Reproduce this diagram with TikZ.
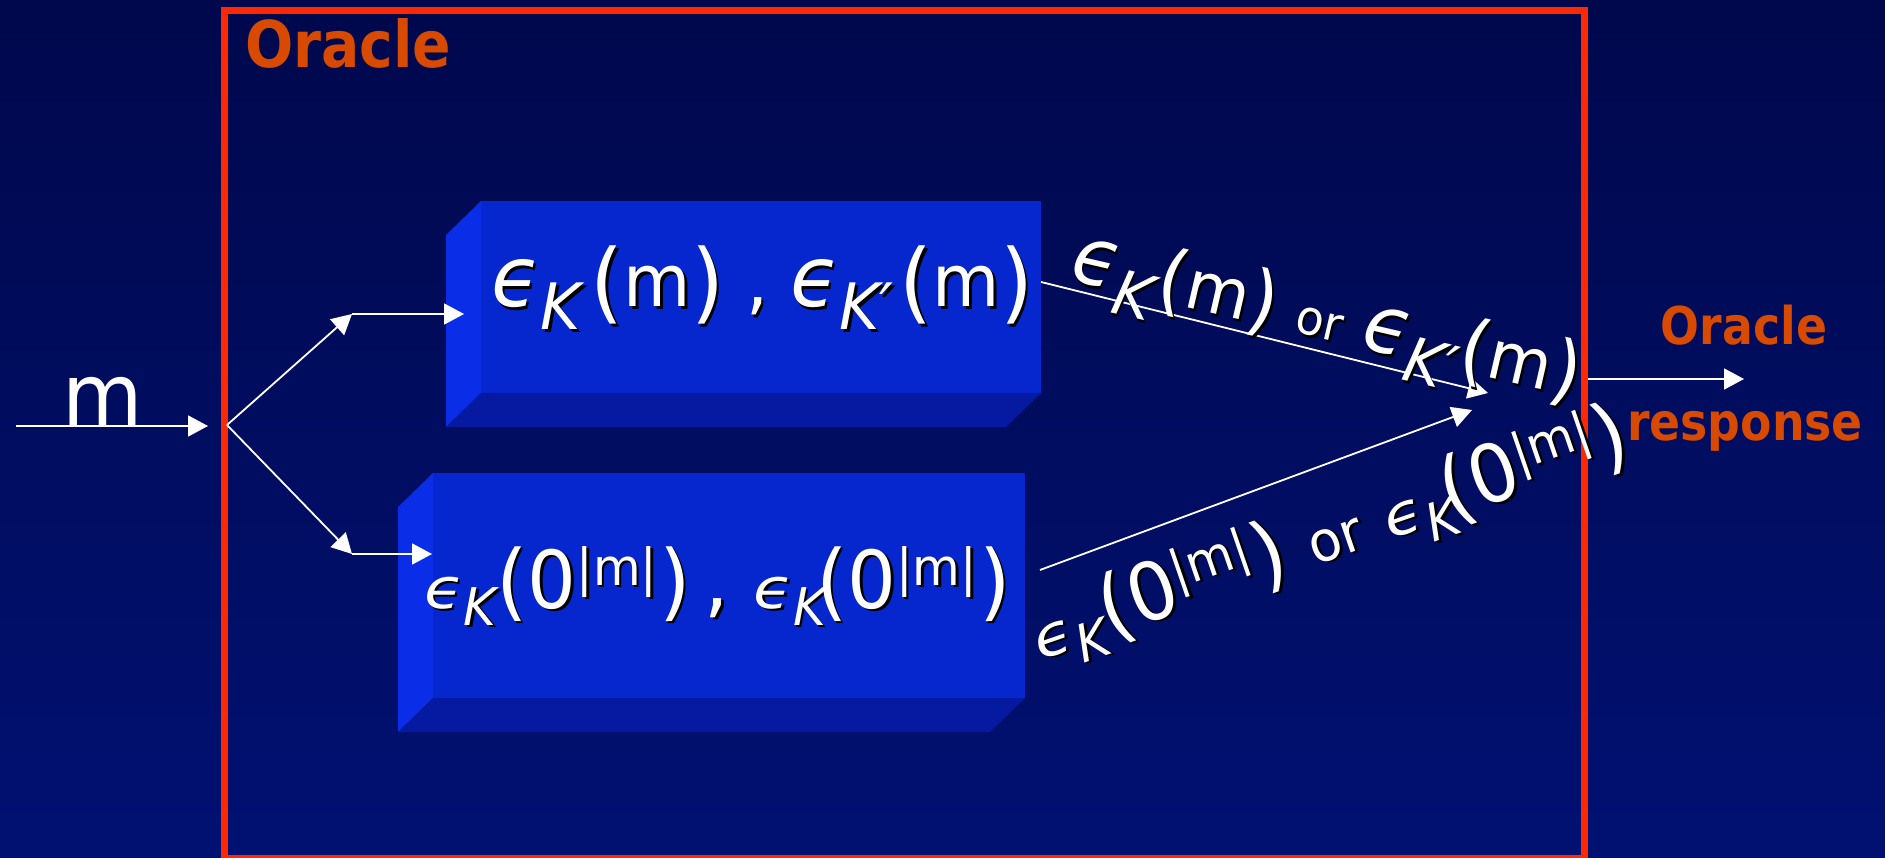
\documentclass[tikz,border=0pt]{standalone}
\usepackage{fontspec}
\usepackage{graphicx}
\setmainfont[FakeStretch=0.96]{DejaVu Sans}
\newfontfamily\orafont[FakeStretch=0.88]{DejaVu Sans}
\usetikzlibrary{arrows.meta,calc}
\definecolor{bgtop}{RGB}{0,8,76}
\definecolor{bgbot}{RGB}{1,17,114}
\definecolor{framered}{RGB}{255,40,0}
\definecolor{oraorange}{RGB}{216,74,0}
\definecolor{facefront}{RGB}{6,38,206}
\definecolor{faceside}{RGB}{10,46,232}
\definecolor{facebottom}{RGB}{5,26,160}
\newcommand\shd[1]{\leavevmode\rlap{\kern2.5pt\raisebox{-2.5pt}{\color{black}#1}}#1}
\newcommand\fz[1]{\fontsize{#1}{#1}\selectfont}
\newcommand\Eps[1]{{\fz{#1}\itshape ϵ}}
\newcommand\EpsW[1]{\scalebox{1.2}[1]{\fz{#1}\itshape ϵ}}
\newcommand\Low[3]{\raisebox{-#2pt}{\fz{#1}#3}}
\newcommand\High[3]{\raisebox{#2pt}{\fz{#1}#3}}
% upper formula pieces (box)
\newcommand\EK{\Eps{84}\Low{64}{23}{\itshape K}\kern10pt}
\newcommand\EKp{\Eps{84}\Low{64}{23}{\itshape K′}\kern6pt}
\newcommand\Pm{\Low{88}{6}{(}m\Low{88}{6}{)}}
% upper formula pieces (label)
\newcommand\LEK{\Eps{80}\Low{62}{22}{\itshape K}\kern2pt}
\newcommand\LEKp{\Eps{80}\Low{62}{22}{\itshape K′}}
\newcommand\LPm{\Low{78}{3}{(}m\Low{78}{3}{)}}
% lower formula pieces
\newcommand\Zm{\Low{84}{2}{(}0\High{51}{23}{|m|}\kern2pt\Low{84}{2}{)}}
\newcommand\EKa{\EpsW{56}\Low{52}{17}{\itshape K}\Zm}
\newcommand\EKb{\EpsW{56}\Low{52}{17}{\itshape K}\kern-10pt\Zm}
\tikzset{
  arr/.style={draw=white, line width=1.8pt, -{Triangle[length=20pt,width=21pt]}},
  front/.style={fill=facefront, inner sep=0pt, outer sep=0pt},
  wtxt/.style={text=white, inner sep=0pt, outer sep=0pt},
  otxt/.style={text=oraorange, inner sep=0pt, outer sep=0pt, font=\orafont\bfseries},
}
\begin{document}
\begin{tikzpicture}[x=1pt,y=-1pt]
\useasboundingbox (0,0) rectangle (1885,858);
\fill[top color=bgtop, bottom color=bgbot] (0,0) rectangle (1885,858);

% oracle frame
\node[draw=framered, line width=7pt, minimum width=1360pt, minimum height=848pt, inner sep=0pt] (oracle) at (904.5,434.5) {};
\node[otxt, anchor=base west, font=\orafont\bfseries\fz{64.5}] (title) at (245,68) {Oracle};

% boxes
\node[front, minimum width=560pt, minimum height=192pt] (box1) at (761,297) {};
\node[front, minimum width=592pt, minimum height=225pt] (box2) at (729,585.5) {};
\foreach \b in {box1,box2}{
  \fill[faceside] (\b.north west) -- ($(\b.north west)+(-35,34)$) -- ($(\b.south west)+(-35,34)$) -- (\b.south west) -- cycle;
  \fill[facebottom] (\b.south west) -- (\b.south east) -- ($(\b.south east)+(-35,34)$) -- ($(\b.south west)+(-35,34)$) -- cycle;
}

% texts in boxes
\node[wtxt, anchor=base west, font=\fz{72}] (t1) at (491,307)
  {\shd{\EK\Pm\ , \EKp\Pm}};
\node[wtxt, anchor=base west, font=\fz{80}] (t2) at (424,608)
  {\shd{\EKa\kern14pt, \EKb}};

% input
\node[wtxt, anchor=base, font=\fz{86}] (mlab) at (103,425) {m};
\coordinate (src) at (16,426);
\coordinate (inEnd) at (208,426);
\coordinate (split) at (227,425);
\coordinate (upK) at (352,314);
\coordinate (upIn) at (464,314);
\coordinate (loK) at (352,554);
\coordinate (loIn) at (432,554);
\draw[arr] (src) -- (inEnd);
\draw[arr] (split) -- (upK);
\draw[arr] (upK) -- (upIn);
\draw[arr] (split) -- (loK);
\draw[arr] (loK) -- (loIn);

% outputs of boxes
\coordinate (r1e) at (1488,393);
\coordinate (r2e) at (1472,410);
\draw[arr] ([yshift=15pt]box1.east) -- (r1e);
\draw[arr] ([xshift=15pt,yshift=15.5pt]box2.east) -- (r2e);

\node[wtxt, anchor=base west, rotate=-13, font=\fz{68}] (l1) at (1068,280)
  {\shd{\LEK\LPm\ {\fz{48}or} \LEKp\LPm}};
\node[wtxt, anchor=base west, rotate=19, font=\fz{80}] (l2) at (1040,660)
  {\shd{\EKa\ {\fz{56}or} \EKb}};

% oracle response
\coordinate (outE) at (1744,379);
\draw[arr] ([yshift=55.5pt]oracle.east) -- (outE);
\node[otxt, anchor=base, font=\orafont\bfseries\fz{52}] (resp1) at (1744,345) {Oracle};
\node[otxt, anchor=base, font=\orafont\bfseries\fz{52}] (resp2) at (1745,440) {response};
\end{tikzpicture}
\end{document}
